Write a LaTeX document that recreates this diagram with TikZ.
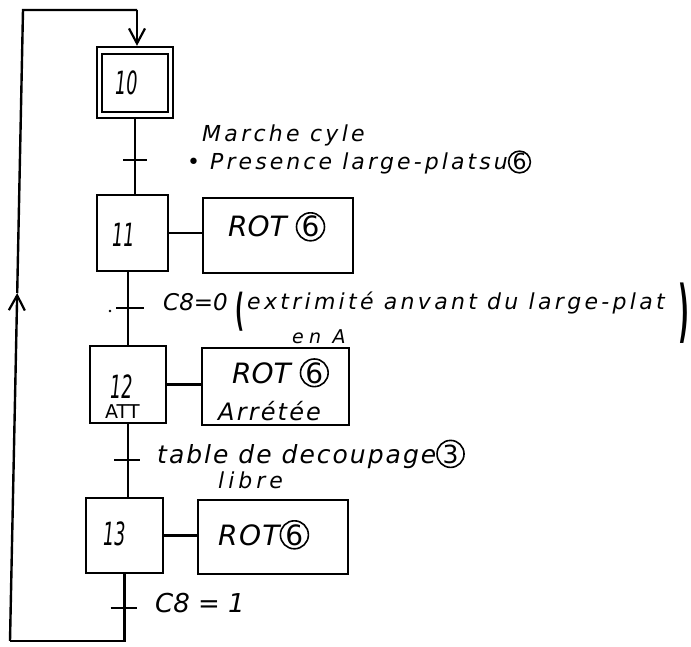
\documentclass[tikz,border=0pt]{standalone}
\usepackage{fontspec}
\setmainfont{DejaVu Sans}
\newfontfamily\hand{DejaVu Sans}
\usetikzlibrary{arrows.meta}
\newcommand\hw[2]{\hand\itshape\fontsize{#1}{#1}\selectfont\addfontfeature{LetterSpace=#2}}
\newcommand\circd[2]{\tikz[baseline=(cc.base)]\node[draw,circle,line width=1.6pt,inner sep=0pt,minimum size=#2pt,anchor=base] (cc) {\upshape#1};}
\tikzset{
  link/.style={line width=2.4pt},
  stepbox/.style={draw, line width=2.4pt, inner sep=0pt},
  actbox/.style={draw, line width=2.4pt, inner sep=0pt},
  txt/.style={anchor=base west, inner sep=0pt},
  barb/.style={-{Straight Barb[length=15pt,width=16pt,line width=2.2pt]}},
}
\begin{document}
\begin{tikzpicture}[x=1pt,y=-1pt]
\useasboundingbox (0,0) rectangle (691,647);
% steps
\node[stepbox, minimum width=76pt, minimum height=71pt] (s10) at (135,82.5) {};
\draw[link] ([xshift=6pt,yshift=-8pt]s10.north west) rectangle ([xshift=-6pt,yshift=7pt]s10.south east);
\node[stepbox, minimum width=71pt, minimum height=76pt] (s11) at (132.5,233) {};
\node[stepbox, minimum width=76pt, minimum height=77pt] (s12) at (128,384.5) {};
\node[stepbox, minimum width=77pt, minimum height=75pt] (s13) at (124.5,535.5) {};
% actions
\node[actbox, minimum width=150pt, minimum height=75pt] (a11) at (278,235.5) {};
\node[actbox, minimum width=147pt, minimum height=77pt] (a12) at (275.5,386.5) {};
\node[actbox, minimum width=150pt, minimum height=74pt] (a13) at (273,537) {};
% step numbers
\node[txt, font=\hw{32}{0}] (n10) at (115,95) {\scalebox{0.55}[1]{10}};
\node[txt, font=\hw{32}{0}] (n11) at (112,247) {\scalebox{0.55}[1]{11}};
\node[txt, font=\hw{32}{0}] (n12) at (110,398) {\scalebox{0.55}[1]{12}};
\node[txt, font=\hand\fontsize{19}{19}\selectfont] (att) at (105,418) {ATT};
\node[txt, font=\hw{32}{0}] (n13) at (103,545) {\scalebox{0.55}[1]{13}};
% action texts
\node[txt, font=\hw{28}{0}] (r11) at (228,237) {ROT \circd{6}{28}};
\node[txt, font=\hw{28}{0}] (r12) at (232,383) {ROT \circd{6}{26}};
\node[txt, font=\hw{24}{9}] (arr) at (218,420) {Arrétée};
\node[txt, font=\hw{28}{5}] (r13) at (218,545) {ROT\circd{6}{28}};
% action links
\draw[link] (s11.east) -- (s11.east -| a11.west);
\draw[link] (s12.east) -- (s12.east -| a12.west);
\draw[link] (s13.east) -- (s13.east -| a13.west);
% vertical links
\draw[link] (s10.south) -- (s10.south |- s11.north);
\draw[link] (s12.north |- s11.south) -- (s12.north);
\draw[link] (s12.south) -- (s12.south |- s13.north);
% transitions
\coordinate (t1) at (135,160);
\coordinate (t2) at (128,308);
\coordinate (t3) at (128,460);
\coordinate (t4) at (124.5,608);
\draw[link] ([xshift=-12pt]t1) -- ([xshift=12pt]t1);
\draw[link] ([xshift=-12pt]t2) -- ([xshift=16pt]t2);
\draw[link] ([xshift=-14pt]t3) -- ([xshift=12pt]t3);
\draw[link] ([xshift=-14pt]t4) -- ([xshift=12pt]t4);
\fill (110,311) circle (1.3pt);
% loop
\coordinate (cBL) at (10,641);
\coordinate (cM) at (17.2,293);
\coordinate (cTL) at (23,10);
\coordinate (cT) at (137,10);
\draw[link] (s13.south) -- (s13.south |- cBL) -- (cBL);
\draw[link, barb] (cBL) -- (cM);
\draw[link] (cM) -- (cTL) -- (cT);
\draw[link, barb] (cT) -- (cT |- s10.north);
% receptivities
\node[txt, font=\hw{22}{15}] (m1) at (202,142) {Marche cyle};
\node[txt, font=\hw{22}{14}] (m2) at (187,170) {• Presence large-platsu\circd{6}{21}};
\node[txt, font=\hw{23}{0}] (c1) at (163,310) {C8=0};
\node[inner sep=0pt, font=\hand\bfseries\fontsize{44}{44}\selectfont] (lp) at (240,312) {\scalebox{0.45}[1]{(}};
\node[txt, font=\hw{22}{15}] (c2) at (247,309) {extrimité anvant du large-plat};
\node[inner sep=0pt, font=\hand\bfseries\fontsize{68}{68}\selectfont] (rp) at (684,313) {\scalebox{0.35}[1]{)}};
\node[txt, font=\hw{19}{28}] (c3) at (292,343) {en A};
\node[txt, font=\hw{25}{8}] (d1) at (157,463) {table de decoupage\circd{3}{27}};
\node[txt, font=\hw{22}{18}] (d2) at (218,488) {libre};
\node[txt, font=\hw{26}{0}] (e1) at (155,612) {C8 = 1};
\end{tikzpicture}
\end{document}
